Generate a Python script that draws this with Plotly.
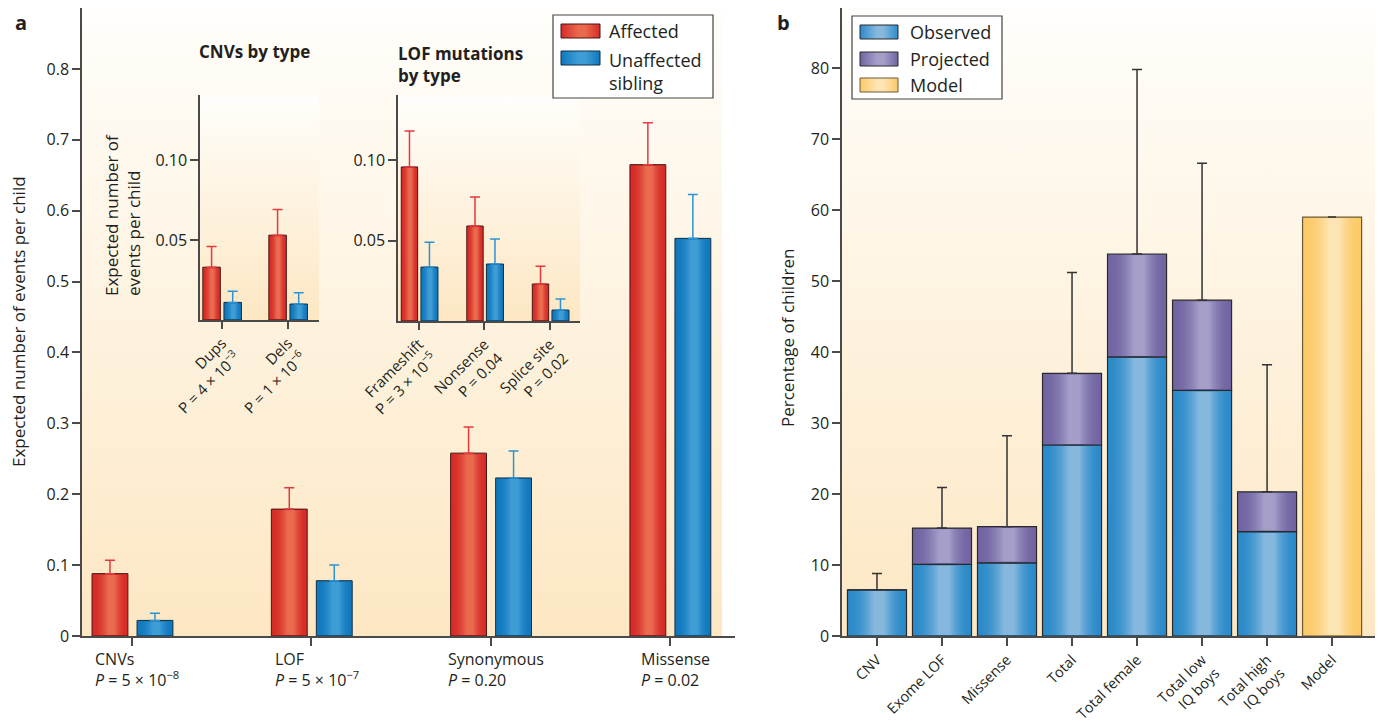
import base64
import plotly.graph_objects as go

# ---------------- DATA ----------------
# Panel a, main chart
a_categories = ["CNVs", "LOF", "Synonymous", "Missense"]
a_pvalues = ["<i>P</i> = 5 × 10<sup>−8</sup>", "<i>P</i> = 5 × 10<sup>−7</sup>",
             "<i>P</i> = 0.20", "<i>P</i> = 0.02"]
a_affected = [0.088, 0.179, 0.258, 0.665]
a_affected_upper = [0.107, 0.209, 0.295, 0.724]
a_sibling = [0.022, 0.078, 0.223, 0.561]
a_sibling_upper = [0.032, 0.100, 0.261, 0.623]
a_yticks = [0, 0.1, 0.2, 0.3, 0.4, 0.5, 0.6, 0.7, 0.8]
a_yticklabels = ["0", "0.1", "0.2", "0.3", "0.4", "0.5", "0.6", "0.7", "0.8"]

# Panel a, inset: CNVs by type
cnv_types = ["Dups", "Dels"]
cnv_pvalues = ["P = 4 × 10<sup>−3</sup>", "P = 1 × 10<sup>−6</sup>"]
cnv_affected = [0.033, 0.053]
cnv_affected_upper = [0.046, 0.069]
cnv_sibling = [0.011, 0.010]
cnv_sibling_upper = [0.018, 0.017]

# Panel a, inset: LOF mutations by type
lof_types = ["Frameshift", "Nonsense", "Splice site"]
lof_pvalues = ["P = 3 × 10<sup>−5</sup>", "P = 0.04", "P = 0.02"]
lof_affected = [0.0957, 0.059, 0.023]
lof_affected_upper = [0.118, 0.077, 0.034]
lof_sibling = [0.0335, 0.0354, 0.0068]
lof_sibling_upper = [0.049, 0.051, 0.0137]
inset_yticks = [0.05, 0.10]
inset_yticklabels = ["0.05", "0.10"]

# Panel b
b_categories = ["CNV", "Exome LOF", "Missense", "Total", "Total female",
                "Total low<br>IQ boys", "Total high<br>IQ boys", "Model"]
b_observed = [6.5, 10.1, 10.3, 26.9, 39.3, 34.6, 14.7, None]
b_total = [6.5, 15.2, 15.4, 37.0, 53.8, 47.3, 20.3, None]
b_upper = [8.8, 20.9, 28.2, 51.2, 79.8, 66.6, 38.2, None]
b_model = [None, None, None, None, None, None, None, 59.0]
b_yticks = [0, 10, 20, 30, 40, 50, 60, 70, 80]

# ---------------- STYLE ----------------
W, H = 1378, 723
FONT = "Open Sans"
TXT = "#231f20"
AXC = "#4a4a4a"
RED_EDGE, RED_MID, RED_LINE, RED_ERR = "#d52b27", "#ea6a4e", "#4a1512", "#e5393e"
BLUEA_EDGE, BLUEA_MID, BLUEA_LINE, BLUE_ERR = "#1078bd", "#3f9dd6", "#0f2f45", "#2d93d0"
BLUEB_EDGE, BLUEB_MID = "#2b8ac9", "#86b8de"
PURPLE_EDGE, PURPLE_MID = "#7164a2", "#a59ec8"
ORANGE_EDGE, ORANGE_MID = "#fcc966", "#fde4b4"
BAR_LINE_B = "#2a2a2a"
MODEL_LINE = "#6b5a3a"
BG_BOTTOM = "#fde7c3"
BG_TOP = "#fffefb"


def px(x):
    return x / W


def py(y):
    return 1 - y / H


def upper_err(vals, uppers):
    return [None if v is None else round(u - v, 5) for v, u in zip(vals, uppers)]


def svg_uri(svg):
    return "data:image/svg+xml;base64," + base64.b64encode(svg.encode()).decode()


def vgradient_uri(top, bottom):
    return svg_uri(
        '<svg xmlns="http://www.w3.org/2000/svg" width="100" height="100" '
        'preserveAspectRatio="none"><defs><linearGradient id="g" x1="0" y1="0" '
        f'x2="0" y2="1"><stop offset="0" stop-color="{top}"/>'
        f'<stop offset="1" stop-color="{bottom}"/></linearGradient></defs>'
        '<rect width="100" height="100" fill="url(#g)"/></svg>')


def hgradient_uri(edge, mid, edge_opacity):
    return svg_uri(
        '<svg xmlns="http://www.w3.org/2000/svg" width="100" height="100" '
        'preserveAspectRatio="none"><defs><linearGradient id="g" x1="0" y1="0" '
        f'x2="1" y2="0"><stop offset="0" stop-color="{edge}" stop-opacity="{edge_opacity}"/>'
        f'<stop offset="0.45" stop-color="{mid}"/>'
        f'<stop offset="0.62" stop-color="{mid}"/>'
        f'<stop offset="1" stop-color="{edge}" stop-opacity="{edge_opacity}"/>'
        '</linearGradient></defs><rect width="100" height="100" fill="url(#g)"/></svg>')


BG_URI = vgradient_uri(BG_TOP, BG_BOTTOM)

fig = go.Figure()
images = []

# ranges
a_xr = [-0.279, 3.363]
a_yr = [0, 0.886]
c_xr = [-0.333, 1.47]
c_yr = [0, 0.1406]
l_xr = [-0.32, 2.458]
l_yr = [0, 0.1404]
b_xr = [-0.538, 7.66]
b_yr = [0, 88.45]
# data units per pixel (vertical) for each panel
a_ypp = a_yr[1] / 628
c_ypp = c_yr[1] / 225
l_ypp = l_yr[1] / 226
b_ypp = b_yr[1] / 628


def shade(xa, ya, lefts, bottoms, tops, width, edge, mid, ypp):
    """Cylindrical highlight drawn over each bar (transparent at the edges)."""
    uri = hgradient_uri(edge, mid, 0)
    for left, b, t in zip(lefts, bottoms, tops):
        if t is None or b is None or t - b <= 3 * ypp:
            continue
        images.append(dict(source=uri, xref=xa, yref=ya, x=left, y=t - ypp,
                           sizex=width, sizey=(t - b) - 2 * ypp, sizing="stretch",
                           xanchor="left", yanchor="top", layer="above"))


def pair(xvals, aff, aff_up, sib, sib_up, xa, ya, r_off, r_w, b_off, b_w, ypp):
    fig.add_trace(go.Bar(
        x=xvals, y=aff, xaxis=xa, yaxis=ya, offset=r_off, width=r_w,
        name="Affected", showlegend=False,
        marker=dict(color=RED_EDGE, line=dict(color=RED_LINE, width=1)),
        error_y=dict(type="data", symmetric=False, array=upper_err(aff, aff_up),
                     arrayminus=[0] * len(aff), color=RED_ERR, thickness=1.5, width=5)))
    fig.add_trace(go.Bar(
        x=xvals, y=sib, xaxis=xa, yaxis=ya, offset=b_off, width=b_w,
        name="Unaffected sibling", showlegend=False,
        marker=dict(color=BLUEA_EDGE, line=dict(color=BLUEA_LINE, width=1)),
        error_y=dict(type="data", symmetric=False, array=upper_err(sib, sib_up),
                     arrayminus=[0] * len(sib), color=BLUE_ERR, thickness=1.5, width=5)))
    shade(xa, ya, [x + r_off for x in xvals], [0] * len(aff), aff, r_w, RED_EDGE, RED_MID, ypp)
    shade(xa, ya, [x + b_off for x in xvals], [0] * len(sib), sib, b_w, BLUEA_EDGE, BLUEA_MID, ypp)


pair(list(range(len(a_categories))), a_affected, a_affected_upper, a_sibling, a_sibling_upper,
     "x", "y", -0.223, 0.2, 0.028, 0.2, a_ypp)
pair(list(range(len(cnv_types))), cnv_affected, cnv_affected_upper, cnv_sibling, cnv_sibling_upper,
     "x2", "y2", -0.29, 0.265, 0.03, 0.265, c_ypp)
pair(list(range(len(lof_types))), lof_affected, lof_affected_upper, lof_sibling, lof_sibling_upper,
     "x3", "y3", -0.27, 0.25, 0.03, 0.26, l_ypp)

# Panel b (projected part stacked on observed via base)
BW = 0.908
b_x = list(range(len(b_categories)))
b_base = [0 if o is None else o for o in b_observed]
b_projected = [None if (t is None or o is None) else round(t - o, 3) for t, o in zip(b_total, b_observed)]
fig.add_trace(go.Bar(
    x=b_x, y=b_observed, xaxis="x4", yaxis="y4", name="Observed", showlegend=False,
    width=BW, marker=dict(color=BLUEB_EDGE, line=dict(color=BAR_LINE_B, width=1.2))))
fig.add_trace(go.Bar(
    x=b_x, y=b_projected, base=b_base,
    xaxis="x4", yaxis="y4", name="Projected", showlegend=False,
    width=BW, marker=dict(color=PURPLE_EDGE, line=dict(color=BAR_LINE_B, width=1.2)),
    error_y=dict(type="data", symmetric=False, array=upper_err(b_total, b_upper),
                 arrayminus=[0] * len(b_total), color="#333333", thickness=1.5, width=5)))
fig.add_trace(go.Bar(
    x=b_x, y=b_model, xaxis="x4", yaxis="y4", name="Model", showlegend=False,
    width=BW, marker=dict(color=ORANGE_EDGE, line=dict(color=MODEL_LINE, width=1.2)),
    error_y=dict(type="data", symmetric=False, array=[0] * len(b_model),
                 arrayminus=[0] * len(b_model), color="#333333", thickness=1.5, width=4)))
b_lefts = [x - BW / 2 for x in b_x]
shade("x4", "y4", b_lefts, [0] * len(b_x), b_observed, BW, BLUEB_EDGE, BLUEB_MID, b_ypp)
shade("x4", "y4", b_lefts, b_observed, b_total, BW, PURPLE_EDGE, PURPLE_MID, b_ypp)
shade("x4", "y4", b_lefts, [0] * len(b_x), b_model, BW, ORANGE_EDGE, ORANGE_MID, b_ypp)

axis_common = dict(showline=True, linecolor=AXC, linewidth=1.5, ticks="outside",
                   tickcolor=AXC, tickwidth=1.5, showgrid=False, zeroline=False,
                   automargin=False,
                   tickfont=dict(family=FONT, size=16, color=TXT), fixedrange=True)

fig.update_layout(
    template="none",
    width=W, height=H, margin=dict(l=0, r=0, t=0, b=0, pad=0, autoexpand=False),
    paper_bgcolor="white", plot_bgcolor="rgba(0,0,0,0)",
    barmode="overlay", showlegend=False,
    font=dict(family=FONT, color=TXT),
    xaxis=dict(axis_common, domain=[px(82), px(735)], range=a_xr, anchor="y",
               tickvals=list(range(len(a_categories))), showticklabels=False, ticklen=8),
    yaxis=dict(axis_common, domain=[py(636), py(8)], range=a_yr, anchor="x",
               tickvals=a_yticks, ticktext=a_yticklabels, ticklen=8),
    xaxis2=dict(axis_common, domain=[px(200), px(319)], range=c_xr, anchor="y2",
                tickvals=list(range(len(cnv_types))),
                ticktext=[f"{t}<br>{p}" for t, p in zip(cnv_types, cnv_pvalues)],
                tickangle=-45, ticklen=7, tickfont=dict(family=FONT, size=15, color=TXT)),
    yaxis2=dict(axis_common, domain=[py(320), py(95)], range=c_yr, anchor="x2",
                tickvals=inset_yticks, ticktext=inset_yticklabels, ticklen=8),
    xaxis3=dict(axis_common, domain=[px(398), px(580)], range=l_xr, anchor="y3",
                tickvals=list(range(len(lof_types))),
                ticktext=[f"{t}<br>{p}" for t, p in zip(lof_types, lof_pvalues)],
                tickangle=-45, ticklen=7, tickfont=dict(family=FONT, size=15, color=TXT)),
    yaxis3=dict(axis_common, domain=[py(321), py(95)], range=l_yr, anchor="x3",
                tickvals=inset_yticks, ticktext=inset_yticklabels, ticklen=8),
    xaxis4=dict(axis_common, domain=[px(842), px(1375)], range=b_xr, anchor="y4",
                tickvals=b_x, ticktext=b_categories, tickangle=-45, ticklen=8,
                tickfont=dict(family=FONT, size=14.5, color=TXT)),
    yaxis4=dict(axis_common, domain=[py(636), py(8)], range=b_yr, anchor="x4",
                tickvals=b_yticks, ticklen=8),
)

# gradient panel backgrounds (below traces)
for (x0, x1, y0, y1) in [(82, 722, 8, 636), (200, 319, 95, 320), (398, 580, 95, 321),
                         (842, 1375, 8, 636)]:
    images.append(dict(source=BG_URI, xref="paper", yref="paper", x=px(x0), y=py(y0),
                       sizex=px(x1) - px(x0), sizey=py(y0) - py(y1), sizing="stretch",
                       xanchor="left", yanchor="top", layer="below"))


def note(x, y, text, size=17, xanchor="center", yanchor="middle", align="center",
         angle=0, bold=False):
    return dict(x=px(x), y=py(y), xref="paper", yref="paper", xanchor=xanchor,
                yanchor=yanchor, align=align, textangle=angle, showarrow=False,
                text=f"<b>{text}</b>" if bold else text,
                font=dict(family=FONT, size=size, color=TXT))


ann = []
# category labels panel a (left-aligned two-line blocks under each category)
for i, (c, p) in enumerate(zip(a_categories, a_pvalues)):
    ann.append(dict(x=i + 0.03, y=0, xref="x", yref="y", yanchor="top", yshift=-10,
                    xanchor="center", align="left", showarrow=False,
                    text=f"{c}<br>{p}", font=dict(family=FONT, size=16, color=TXT)))
# axis titles
ann.append(note(18, 322, "Expected number of events per child", angle=-90))
ann.append(note(122, 215, "Expected number of<br>events per child", angle=-90, align="left"))
ann.append(note(787, 338, "Percentage of children", angle=-90))
# inset titles
ann.append(note(197, 52, "CNVs by type", xanchor="left", bold=True))
ann.append(note(396, 64, "LOF mutations<br>by type", xanchor="left", align="left", bold=True))
# panel letters
ann.append(note(13, 22, "a", size=20, xanchor="left", bold=True))
ann.append(note(775, 22, "b", size=20, xanchor="left", bold=True))

shapes = []


def swatch(x0, x1, yc, edge, mid, line_color):
    images.append(dict(source=hgradient_uri(edge, mid, 1), xref="paper", yref="paper",
                       x=px(x0), y=py(yc - 7), sizex=px(x1) - px(x0), sizey=14 / H,
                       sizing="stretch", xanchor="left", yanchor="top", layer="above"))
    shapes.append(dict(type="rect", xref="paper", yref="paper", x0=px(x0), x1=px(x1),
                       y0=py(yc + 7), y1=py(yc - 7), line=dict(color=line_color, width=1),
                       fillcolor="rgba(0,0,0,0)", layer="above"))


# legend a
shapes.append(dict(type="rect", xref="paper", yref="paper", x0=px(553), x1=px(713),
                   y0=py(98), y1=py(15), line=dict(color="#444", width=1.2),
                   fillcolor="white", layer="below"))
swatch(561, 600, 31, RED_EDGE, RED_MID, RED_LINE)
swatch(561, 600, 58, BLUEA_EDGE, BLUEA_MID, BLUEA_LINE)
ann.append(note(607, 31, "Affected", size=18, xanchor="left"))
ann.append(note(607, 46, "Unaffected<br>sibling", size=18, xanchor="left", yanchor="top",
                align="left"))
# legend b
shapes.append(dict(type="rect", xref="paper", yref="paper", x0=px(852), x1=px(1002),
                   y0=py(99), y1=py(16), line=dict(color="#444", width=1.2),
                   fillcolor="white", layer="below"))
for label, edge, mid, lc, yc in [("Observed", BLUEB_EDGE, BLUEB_MID, BAR_LINE_B, 32),
                                 ("Projected", PURPLE_EDGE, PURPLE_MID, BAR_LINE_B, 59),
                                 ("Model", ORANGE_EDGE, ORANGE_MID, MODEL_LINE, 85)]:
    swatch(860, 898, yc, edge, mid, lc)
    ann.append(note(908, yc, label, size=18, xanchor="left"))

fig.update_layout(annotations=ann, shapes=shapes, images=images)

fig.write_html("out.html", config={"displayModeBar": False},
               post_script="document.body.style.margin='0';")
